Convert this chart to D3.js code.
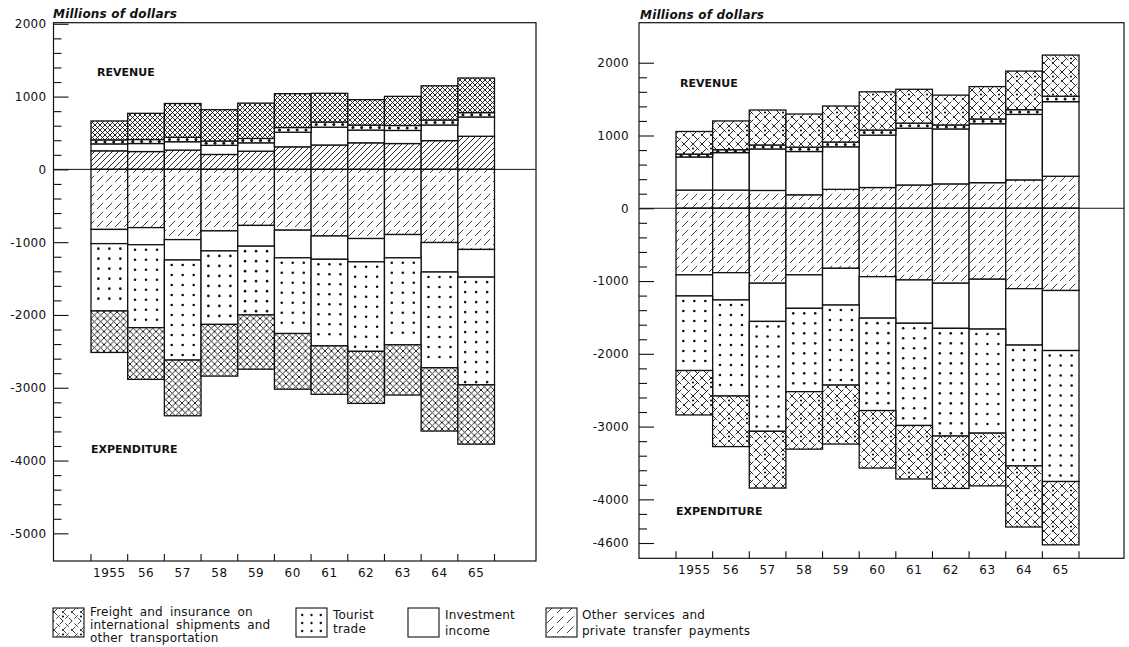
<!DOCTYPE html>
<html>
<head>
<meta charset="utf-8">
<script src="https://cdn.jsdelivr.net/npm/d3@7"></script>
<style>
  body { margin: 0; background: #fff; }
  svg text { font-family: "DejaVu Sans", sans-serif; fill: #111; }
</style>
</head>
<body>
<script>
// ---- data (millions of dollars) ----
const years = ["1955", "56", "57", "58", "59", "60", "61", "62", "63", "64", "65"];
const keys = ["other", "invest", "tourist", "freight"];

// left panel
const leftRevOther   = [255, 245, 265, 205, 250, 310, 335, 365, 355, 395, 455];
const leftRevInvest  = [95, 110, 115, 125, 115, 200, 245, 175, 180, 215, 265];
const leftRevTourist = [55, 55, 60, 60, 60, 65, 70, 68, 68, 68, 60];
const leftRevFreight = [260, 360, 465, 430, 485, 465, 395, 350, 400, 470, 475];
const leftExpOther   = [825, 800, 965, 845, 770, 835, 915, 950, 895, 1005, 1100];
const leftExpInvest  = [195, 235, 280, 275, 285, 380, 320, 320, 320, 405, 380];
const leftExpTourist = [925, 1140, 1375, 1010, 945, 1040, 1190, 1230, 1195, 1315, 1480];
const leftExpFreight = [570, 710, 765, 710, 745, 765, 665, 715, 690, 870, 815];
const leftTicks = [2000, 1000, 0, -1000, -2000, -3000, -4000, -5000];

// right panel
const rightRevOther   = [250, 250, 245, 185, 260, 285, 320, 335, 352, 390, 440];
const rightRevInvest  = [455, 515, 570, 595, 585, 720, 780, 755, 810, 900, 1025];
const rightRevTourist = [40, 40, 55, 60, 65, 70, 70, 55, 65, 65, 75];
const rightRevFreight = [310, 395, 480, 455, 495, 525, 465, 410, 445, 530, 565];
const rightExpOther   = [915, 885, 1030, 915, 825, 940, 985, 1030, 975, 1105, 1130];
const rightExpInvest  = [290, 375, 525, 460, 505, 570, 595, 620, 685, 775, 825];
const rightExpTourist = [1025, 1320, 1510, 1145, 1100, 1270, 1405, 1480, 1430, 1660, 1800];
const rightExpFreight = [610, 695, 780, 790, 810, 790, 735, 720, 725, 840, 870];
const rightTicks = [2000, 1000, 0, -1000, -2000, -3000, -4000, -4600];

const legendItems = [
  { key: "freight", lines: ["Freight and insurance on", "international shipments and", "other transportation"] },
  { key: "tourist", lines: ["Tourist", "trade"] },
  { key: "invest", lines: ["Investment", "income"] },
  { key: "other", lines: ["Other services and", "private transfer payments"] }
];

const W = 1129, H = 647;
const svg = d3.select("body").append("svg").attr("width", W).attr("height", H);
const defs = svg.append("defs");

// diagonal line patterns: "/" only, or cross, with optional dashes and dots
function addPattern(id, s, opt) {
  const T = opt.dots ? 2 * s : s;
  const p = defs.append("pattern").attr("id", id)
    .attr("patternUnits", "userSpaceOnUse").attr("width", T).attr("height", T);
  p.append("rect").attr("width", T).attr("height", T).attr("fill", "#fff");
  let d = "";
  for (let i = -T; i <= 2 * T; i += s) {
    d += `M${i},${T}L${i + T},0`;
    if (opt.cross) d += `M${i},0L${i + T},${T}`;
  }
  const path = p.append("path").attr("d", d).attr("fill", "none")
    .attr("stroke", "#111").attr("stroke-width", opt.w || 0.9);
  if (opt.dash) path.attr("stroke-dasharray", opt.dash);
  if (opt.dots) p.append("circle").attr("cx", s).attr("cy", s / 2).attr("r", 1.1).attr("fill", "#111");
}
addPattern("crossL1", 5, { cross: true, w: 0.9 });
addPattern("crossL2", 6.5, { cross: true, w: 0.9 });
addPattern("hatchL1", 6, { w: 0.9 });
addPattern("hatchL2", 9, { w: 0.8, dash: "6,4" });
addPattern("crossR", 9, { cross: true, w: 0.9, dots: true, dash: "9,2" });
addPattern("hatchR", 9, { w: 0.8, dash: "6,4" });
addPattern("crossLeg", 9, { cross: true, w: 0.8, dots: true, dash: "5,3" });
addPattern("hatchLeg", 10, { w: 0.8, dash: "5,5" });

const charts = [
  {
    rev: [leftRevOther, leftRevInvest, leftRevTourist, leftRevFreight],
    exp: [leftExpOther, leftExpInvest, leftExpTourist, leftExpFreight],
    ticks: leftTicks, minor: [-5000, 2000],
    frame: { left: 53.5, right: 536, top: 22.7, bottom: 561 },
    yDomain: [-5380, 2015], bars: [91, 494.5],
    fills: { rev: { other: "url(#hatchL1)", freight: "url(#crossL1)" }, exp: { other: "url(#hatchL2)", freight: "url(#crossL2)" } },
    labelPad: 7, units: [53, 18], revLabel: [97, 76], expLabel: [91, 453]
  },
  {
    rev: [rightRevOther, rightRevInvest, rightRevTourist, rightRevFreight],
    exp: [rightExpOther, rightExpInvest, rightExpTourist, rightExpFreight],
    ticks: rightTicks, minor: [-4600, 2000],
    frame: { left: 639, right: 1124, top: 22.7, bottom: 558.3 },
    yDomain: [-4810, 2550], bars: [676, 1079],
    fills: { rev: { other: "url(#hatchR)", freight: "url(#crossR)" }, exp: { other: "url(#hatchR)", freight: "url(#crossR)" } },
    labelPad: 10, units: [640, 19], revLabel: [680, 87], expLabel: [676, 515]
  }
];

function drawDots(g, x0, bw, top, bottom) {
  const h = bottom - top;
  const pts = [];
  if (h < 9) {
    [0.14, 0.38, 0.62, 0.86].forEach(f => pts.push([x0 + bw * f, (top + bottom) / 2]));
  } else {
    for (let yy = top + 5; yy < bottom - 2.5; yy += 10) {
      [0.2, 0.5, 0.8].forEach(f => pts.push([x0 + bw * f, yy]));
    }
  }
  g.selectAll(null).data(pts).enter().append("circle")
    .attr("cx", d => d[0]).attr("cy", d => d[1]).attr("r", h < 9 ? 1.5 : 1.3).attr("fill", "#111");
}

charts.forEach(cfg => {
  const g = svg.append("g");
  const f = cfg.frame;
  const x = d3.scaleBand().domain(years).range(cfg.bars).padding(0);
  const y = d3.scaleLinear().domain(cfg.yDomain).range([f.bottom, f.top]);

  const toRows = (arrs, sign) => years.map((yr, i) => {
    const r = { year: yr };
    keys.forEach((k, j) => r[k] = sign * arrs[j][i]);
    return r;
  });
  const stack = d3.stack().keys(keys).offset(d3.stackOffsetDiverging);

  [["rev", 1], ["exp", -1]].forEach(([side, sign]) => {
    const series = stack(toRows(cfg[side], sign));
    series.forEach(s => {
      const fill = s.key === "other" || s.key === "freight" ? cfg.fills[side][s.key] : "#fff";
      const sg = g.append("g");
      s.forEach(d => {
        const top = y(Math.max(d[0], d[1])), bottom = y(Math.min(d[0], d[1]));
        sg.append("rect").attr("x", x(d.data.year)).attr("y", top)
          .attr("width", x.bandwidth()).attr("height", bottom - top)
          .attr("fill", fill).attr("stroke", "#111").attr("stroke-width", 1.3);
        if (s.key === "tourist") drawDots(sg, x(d.data.year), x.bandwidth(), top, bottom);
      });
    });
  });

  // frame and zero line
  g.append("rect").attr("x", f.left).attr("y", f.top)
    .attr("width", f.right - f.left).attr("height", f.bottom - f.top)
    .attr("fill", "none").attr("stroke", "#111").attr("stroke-width", 1.2);
  g.append("line").attr("x1", f.left).attr("x2", f.right)
    .attr("y1", y(0)).attr("y2", y(0)).attr("stroke", "#111").attr("stroke-width", 1);

  // y axis: minor ticks every 200, major ticks with labels
  const minorVals = d3.range(cfg.minor[0], cfg.minor[1] + 1, 200).filter(v => !cfg.ticks.includes(v));
  const minorAxis = g.append("g").attr("transform", `translate(${f.left},0)`)
    .call(d3.axisLeft(y).tickValues(minorVals).tickSize(-8).tickFormat(""));
  const majorAxis = g.append("g").attr("transform", `translate(${f.left},0)`)
    .call(d3.axisLeft(y).tickValues(cfg.ticks).tickSize(-15).tickPadding(cfg.labelPad).tickFormat(d3.format("d")));
  [minorAxis, majorAxis].forEach(a => {
    a.select(".domain").remove();
    a.selectAll(".tick line").attr("stroke", "#111").attr("stroke-width", 1.1);
  });
  majorAxis.selectAll("text").attr("font-size", 12).attr("letter-spacing", 0.3)
    .text(d => d < 0 ? "-" + Math.abs(d) : d);

  // x axis: labels centred on bars, ticks at bar boundaries
  const xAxis = g.append("g").attr("transform", `translate(0,${f.bottom})`)
    .call(d3.axisBottom(x).tickSize(0).tickPadding(7));
  xAxis.select(".domain").remove();
  xAxis.selectAll("text").attr("font-size", 12).attr("letter-spacing", 0.5);
  const bounds = years.map(yr => x(yr)).concat([x(years[years.length - 1]) + x.bandwidth()]);
  g.selectAll(null).data(bounds).enter().append("line")
    .attr("x1", d => d).attr("x2", d => d).attr("y1", f.bottom).attr("y2", f.bottom - 7)
    .attr("stroke", "#111").attr("stroke-width", 1.1);

  // captions
  g.append("text").attr("x", cfg.units[0]).attr("y", cfg.units[1])
    .attr("font-size", 12).attr("font-style", "italic").attr("font-weight", 600)
    .attr("letter-spacing", 0.2).text("Millions of dollars");
  g.append("text").attr("x", cfg.revLabel[0]).attr("y", cfg.revLabel[1])
    .attr("font-size", 11).attr("font-weight", "bold").text("REVENUE");
  g.append("text").attr("x", cfg.expLabel[0]).attr("y", cfg.expLabel[1])
    .attr("font-size", 11).attr("font-weight", "bold").text("EXPENDITURE");
});

// legend
const legendPos = [
  { sx: 53, tx: 90, base: [616, 629, 642] },
  { sx: 296, tx: 333, base: [619, 633] },
  { sx: 408, tx: 445, base: [619, 635] },
  { sx: 546, tx: 582, base: [619, 635] }
];
const legendFill = { freight: "url(#crossLeg)", tourist: "#fff", invest: "#fff", other: "url(#hatchLeg)" };
const lg = svg.append("g");
legendItems.forEach((it, i) => {
  const p = legendPos[i];
  lg.append("rect").attr("x", p.sx).attr("y", 608).attr("width", 31).attr("height", 29)
    .attr("fill", legendFill[it.key]).attr("stroke", "#111").attr("stroke-width", 1.1);
  if (it.key === "tourist") {
    const pts = [];
    [615, 623, 631].forEach(yy => [0.2, 0.5, 0.8].forEach(fx => pts.push([p.sx + 31 * fx, yy])));
    lg.selectAll(null).data(pts).enter().append("circle")
      .attr("cx", d => d[0]).attr("cy", d => d[1]).attr("r", 1.2).attr("fill", "#111");
  }
  it.lines.forEach((ln, j) => {
    lg.append("text").attr("x", p.tx).attr("y", p.base[j])
      .attr("font-size", 12).attr("letter-spacing", 0.2).attr("word-spacing", 3).text(ln);
  });
});
</script>
</body>
</html>
